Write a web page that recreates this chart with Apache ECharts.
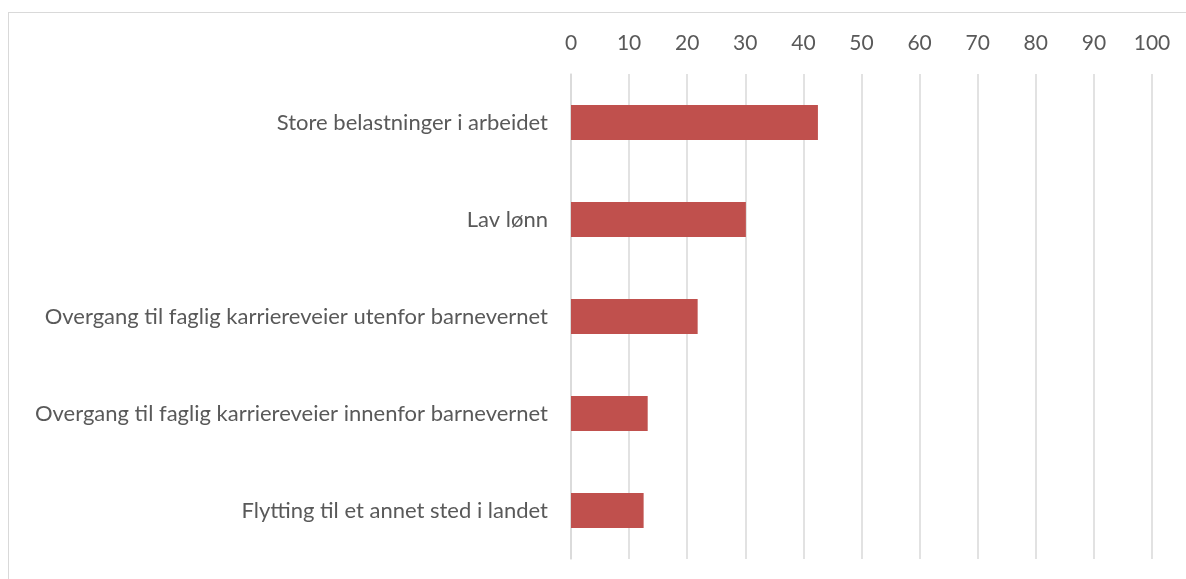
<!DOCTYPE html>
<html>
<head>
<meta charset="utf-8">
<script src="https://cdn.jsdelivr.net/npm/echarts@6/dist/echarts.min.js"></script>
<style>
  html, body { margin: 0; padding: 0; background: #fff; overflow: hidden; }
  #frame {
    position: absolute; left: 8px; top: 12px;
    width: 1300px; height: 700px;
    border: 1px solid #d9d9d9;
  }
  #chart { position: absolute; left: 0; top: 0; width: 1186px; height: 579px; }
</style>
</head>
<body>
<div id="frame"></div>
<div id="chart"></div>
<script>
// kategorier og verdier (prosent)
const categories = [
  'Store belastninger i arbeidet',
  'Lav lønn',
  'Overgang til faglig karriereveier utenfor barnevernet',
  'Overgang til faglig karriereveier innenfor barnevernet',
  'Flytting til et annet sted i landet'
]
const values = [42.5, 30.1, 21.8, 13.2, 12.5]

const chart = echarts.init(document.getElementById('chart'))

chart.setOption({
  animation: false,
  textStyle: { fontFamily: 'Lato, "Open Sans", sans-serif' },
  grid: { left: 571, right: 34, top: 74, bottom: 20, containLabel: false },
  xAxis: {
    type: 'value',
    position: 'top',
    min: 0,
    max: 100,
    interval: 10,
    axisLine: { show: false },
    axisTick: { show: false },
    axisLabel: { color: '#595959', fontSize: 21, margin: 20 },
    splitLine: { show: true, lineStyle: { color: '#d9d9d9', width: 1.5 } }
  },
  yAxis: {
    type: 'category',
    inverse: true,
    data: categories,
    axisLine: { show: true, lineStyle: { color: '#d9d9d9', width: 1.5 } },
    axisTick: { show: false },
    axisLabel: { color: '#595959', fontSize: 22, margin: 23 }
  },
  series: [{
    type: 'bar',
    data: values,
    barWidth: 35,
    itemStyle: { color: '#c0504d' }
  }]
})
</script>
</body>
</html>
